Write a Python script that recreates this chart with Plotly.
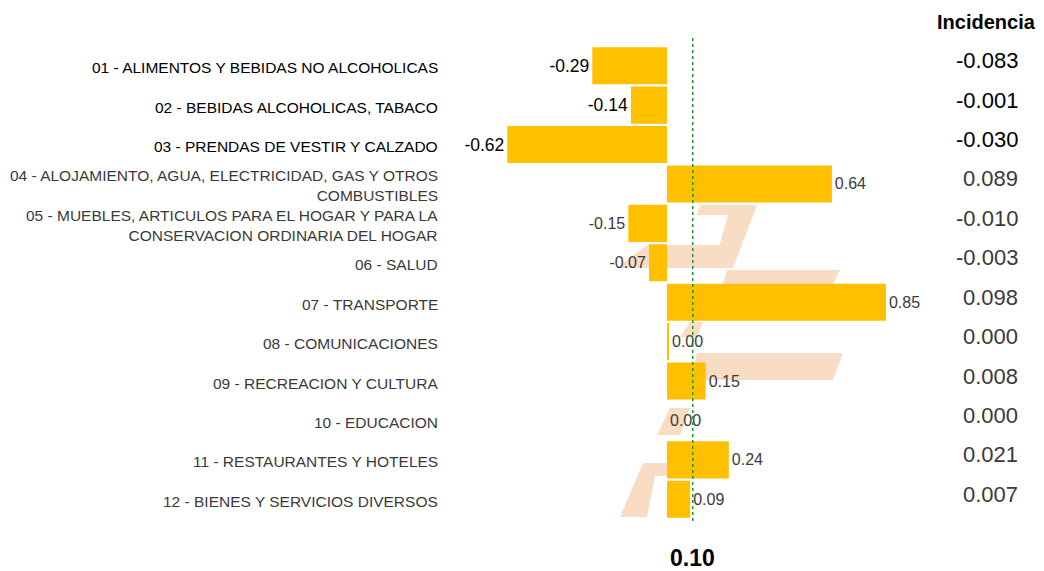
import plotly.graph_objects as go

# ---------------- data ----------------
labels = [
    "01 - ALIMENTOS Y BEBIDAS NO ALCOHOLICAS",
    "02 - BEBIDAS ALCOHOLICAS, TABACO",
    "03 - PRENDAS DE VESTIR Y CALZADO",
    "04 - ALOJAMIENTO, AGUA, ELECTRICIDAD, GAS Y OTROS<br>COMBUSTIBLES",
    "05 - MUEBLES, ARTICULOS PARA EL HOGAR Y PARA LA<br>CONSERVACION ORDINARIA DEL HOGAR",
    "06 - SALUD",
    "07 - TRANSPORTE",
    "08 - COMUNICACIONES",
    "09 - RECREACION Y CULTURA",
    "10 - EDUCACION",
    "11 - RESTAURANTES Y HOTELES",
    "12 - BIENES Y SERVICIOS DIVERSOS",
]
variation = [-0.29, -0.14, -0.62, 0.64, -0.15, -0.07, 0.85, 0.004, 0.15, 0.00, 0.24, 0.09]
incidencia = ["-0.083", "-0.001", "-0.030", "0.089", "-0.010", "-0.003",
              "0.098", "0.000", "0.008", "0.000", "0.021", "0.007"]
total_label = "0.10"
total_value = 0.10

# ---------------- geometry / style ----------------
OFF = 8  # page body margin
W, H = 1044 - OFF, 571 - OFF
L, R, T, B = 450 - OFF, 100, 46 - OFF, 52
pw, ph = W - L - R, H - T - B
ZERO_PX = 667 - OFF
PX_PER_UNIT = 257.6
xr0 = -(ZERO_PX - L) / PX_PER_UNIT
xr1 = (W - R - ZERO_PX) / PX_PER_UNIT

BAR = "#FFC000"
FONT = "Arial, Liberation Sans, Helvetica, sans-serif"
crisp = ["#000000"] * 3 + ["#3a3a3a"] * 9


def px(xp, yp):
    """reference pixel -> paper coords"""
    return (xp - OFF - L) / pw, 1 - (yp - OFF - T) / ph


fig = go.Figure()
fig.add_trace(go.Bar(
    y=labels, x=variation, orientation="h",
    marker=dict(color=BAR, line=dict(width=0)),
    text=[f"{v:.2f}" for v in variation],
    textposition="outside",
    textfont=dict(family=FONT, size=[17.5, 17.5, 17.5] + [16] * 9, color=crisp),
    cliponaxis=False,
    hoverinfo="skip",
))

# watermark (faded logo pieces), reference-pixel polygons
wm_polys = [
    [(700, 205), (757, 205), (733, 268), (713, 268), (728, 215), (697, 215)],
    [(647, 245), (737, 245), (727, 268), (617, 268)],
    [(727, 270), (840, 270), (833, 284), (723, 284)],
    [(690, 322), (703, 322), (697, 337), (680, 337)],
    [(697, 353), (843, 353), (833, 380), (690, 380)],
    [(670, 408), (690, 408), (680, 435), (657, 435)],
    [(643, 463), (667, 463), (667, 476), (655, 476), (647, 517), (620, 517)],
]
shapes = []
for poly in wm_polys:
    pts = [px(a, b) for a, b in poly]
    path = "M " + " L ".join(f"{a:.4f},{b:.4f}" for a, b in pts) + " Z"
    shapes.append(dict(type="path", path=path, xref="paper", yref="paper",
                       fillcolor="#F8DCC4", line=dict(width=0), layer="below"))

# green dotted reference line
shapes.append(dict(type="line", xref="x", yref="paper",
                   x0=total_value, x1=total_value,
                   y0=px(0, 521)[1], y1=px(0, 38)[1],
                   line=dict(color="#1f9a2a", width=1.5, dash="dot"), layer="above"))

annotations = []
for i, lab in enumerate(labels):
    annotations.append(dict(
        x=px(440, 0)[0], xref="paper", y=lab, yref="y", text=lab, showarrow=False,
        xanchor="right", yanchor="middle", align="right", yshift=-2,
        font=dict(family=FONT, size=15.5, color=crisp[i])))
    annotations.append(dict(
        x=px(1020, 0)[0], xref="paper", y=lab, yref="y", text=incidencia[i],
        showarrow=False, xanchor="right", yanchor="middle", yshift=5,
        font=dict(family=FONT, size=22, color=crisp[i])))

annotations.append(dict(
    x=px(986, 0)[0], xref="paper", y=px(0, 22)[1], yref="paper",
    text="<b>Incidencia</b>", showarrow=False, xanchor="center", yanchor="middle",
    font=dict(family=FONT, size=20, color="#000000")))
annotations.append(dict(
    x=total_value, xref="x", y=px(0, 558)[1], yref="paper",
    text=f"<b>{total_label}</b>", showarrow=False, xanchor="center", yanchor="middle",
    font=dict(family=FONT, size=23, color="#000000")))

fig.update_layout(
    width=W, height=H,
    margin=dict(l=L, r=R, t=T, b=B),
    paper_bgcolor="white", plot_bgcolor="white",
    showlegend=False, bargap=0.06,
    xaxis=dict(range=[xr0, xr1], visible=False, fixedrange=True),
    yaxis=dict(type="category", categoryorder="array", categoryarray=labels,
               autorange="reversed", showticklabels=False, showgrid=False,
               zeroline=False, showline=False, ticks=""),
    shapes=shapes, annotations=annotations,
)

fig.write_html("out.html")
